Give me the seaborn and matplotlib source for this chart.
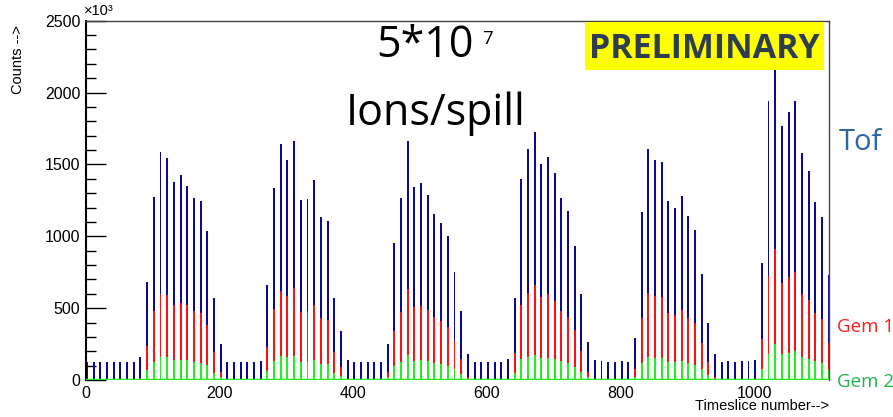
import numpy as np
import pandas as pd
import seaborn as sns
import matplotlib.pyplot as plt
from matplotlib.patches import Rectangle
from matplotlib.ticker import MultipleLocator

# counts in units of 10^3, one bar every 10 timeslices (112 bars)
tof = [125, 125, 125, 125, 125, 125, 125, 125, 158, 680,
       1274, 1587, 1547, 1378, 1424, 1350, 1264, 1246, 1039, 571,
       248, 125, 125, 125, 125, 125, 130, 664, 1336, 1643,
       1529, 1666, 1253, 1260, 1392, 1137, 1107, 568, 339, 139,
       125, 125, 125, 125, 125, 253, 951, 1264, 1666, 1346,
       1369, 1285, 1155, 1094, 1002, 752, 478, 179, 125, 125,
       125, 125, 125, 144, 571, 1397, 1605, 1726, 1503, 1550,
       1441, 1264, 1179, 933, 599, 264, 139, 135, 125, 125,
       130, 125, 290, 1172, 1605, 1531, 1517, 1246, 1197, 1281,
       1139, 1044, 738, 399, 179, 125, 135, 125, 135, 130,
       139, 815, 1940, 2158, 1768, 1865, 1944, 1578, 1452, 1239,
       1132, 728]
gem1 = [4, 4, 4, 4, 4, 4, 4, 4, 14, 237,
        478, 601, 594, 524, 536, 522, 478, 469, 385, 195,
        56, 4, 4, 4, 4, 4, 4, 227, 495, 619,
        587, 640, 476, 480, 522, 432, 418, 197, 88, 6,
        4, 4, 4, 4, 4, 56, 343, 473, 636, 506,
        517, 490, 436, 408, 370, 272, 148, 23, 4, 4,
        4, 4, 4, 10, 186, 522, 605, 661, 575, 596,
        550, 478, 441, 348, 204, 58, 6, 4, 4, 4,
        4, 4, 74, 432, 605, 585, 578, 469, 452, 487,
        432, 394, 260, 123, 19, 4, 4, 4, 4, 4,
        4, 286, 722, 909, 677, 715, 754, 601, 558, 469,
        427, 255]
gem2 = [1, 1, 1, 1, 1, 1, 1, 1, 1, 70,
        125, 158, 158, 142, 142, 142, 128, 121, 107, 46,
        19, 1, 1, 1, 1, 1, 1, 65, 135, 167,
        158, 167, 123, 123, 139, 111, 111, 51, 28, 1,
        1, 1, 1, 1, 1, 19, 95, 123, 172, 135,
        139, 132, 118, 111, 100, 76, 42, 5, 1, 1,
        1, 1, 1, 3, 51, 144, 158, 172, 153, 153,
        148, 130, 121, 93, 56, 23, 1, 1, 1, 1,
        1, 1, 23, 116, 158, 153, 153, 123, 123, 130,
        116, 104, 74, 35, 4, 1, 1, 1, 1, 1,
        1, 79, 180, 250, 184, 188, 200, 162, 148, 130,
        116, 70]
timeslice = np.arange(len(tof)) * 10 + 1.5

df = pd.DataFrame({'timeslice': timeslice, 'Tof': tof, 'Gem 1': gem1, 'Gem 2': gem2})

sns.set_style("ticks")
plt.rcParams['font.family'] = ['Liberation Sans', 'DejaVu Sans']
plt.rcParams['text.color'] = 'black'
plt.rcParams['xtick.color'] = 'black'
plt.rcParams['ytick.color'] = 'black'

fig = plt.figure(figsize=(8.93, 4.17), dpi=100)
ax = fig.add_axes([86 / 893, 37 / 417, 743 / 893, 359.3 / 417])

colors = {'Tof': '#0a0a96', 'Gem 1': '#ff1010', 'Gem 2': '#22ee22'}
for col in ['Tof', 'Gem 1', 'Gem 2']:
    sns.barplot(data=df, x='timeslice', y=col, native_scale=True, width=0.29,
                color=colors[col], saturation=1, errorbar=None, linewidth=0, ax=ax)

ax.axhline(0, color='#22ee22', lw=2.5, zorder=5)

ax.set_xlim(0, 1112)
ax.set_ylim(0, 2500)
ax.set_xticks([0, 200, 400, 600, 800, 1000])
ax.set_yticks([0, 500, 1000, 1500, 2000, 2500])
ax.yaxis.set_minor_locator(MultipleLocator(100))
ax.tick_params(axis='y', which='major', direction='in', length=14.5, width=1, labelsize=11.5, pad=4)
ax.tick_params(axis='y', which='minor', direction='in', length=7, width=1)
ax.tick_params(axis='x', which='both', length=0, labelsize=11.5, pad=4)
ax.set_xlabel('')
ax.set_ylabel('')

ax.spines['left'].set_linewidth(1.5)
ax.spines['left'].set_color('black')
for s in ['top', 'right']:
    ax.spines[s].set_linewidth(1)
    ax.spines[s].set_color('#444444')
ax.spines['bottom'].set_visible(False)

# axis labels, ROOT style
fig.text(829 / 893, 1 - 410 / 417, 'Timeslice number-->', ha='right', va='baseline', fontsize=10.5)
fig.text(18 / 893, 1 - 60 / 417, 'Counts -->', ha='center', va='center', rotation=90, fontsize=10.5)
fig.text(84 / 893, 1 - 11 / 417, '×10³', ha='left', va='center', fontsize=10.5)

# annotations
fig.text(376 / 893, 1 - 56.7 / 417, '5*10', ha='left', va='baseline',
         fontsize=31, family='Open Sans')
fig.text(482 / 893, 1 - 43.5 / 417, '7', ha='left', va='baseline',
         fontsize=13.5, family='Open Sans')
fig.text(436 / 893, 1 - 125 / 417, 'Ions/spill', ha='center', va='baseline',
         fontsize=31, family='Open Sans')

fig.patches.append(Rectangle((585 / 893, 1 - 70 / 417), 239 / 893, 48 / 417,
                             transform=fig.transFigure, facecolor='#ffff00',
                             edgecolor='none', zorder=3))
fig.text(704 / 893, 1 - 58.3 / 417, 'PRELIMINARY', ha='center', va='baseline',
         fontsize=24.5, fontweight='bold', color='#2e3e50', family='Open Sans', zorder=4)

fig.text(839 / 893, 1 - 150 / 417, 'Tof', ha='left', va='baseline', fontsize=21,
         color='#2e67a5', family='Open Sans')
fig.text(837 / 893, 1 - 332 / 417, 'Gem 1', ha='left', va='baseline', fontsize=13.5,
         color='#ff1a1a', family='Open Sans')
fig.text(837 / 893, 1 - 386.7 / 417, 'Gem 2', ha='left', va='baseline', fontsize=13.5,
         color='#22b14c', family='Open Sans')

fig.savefig('out.png', dpi=100)
